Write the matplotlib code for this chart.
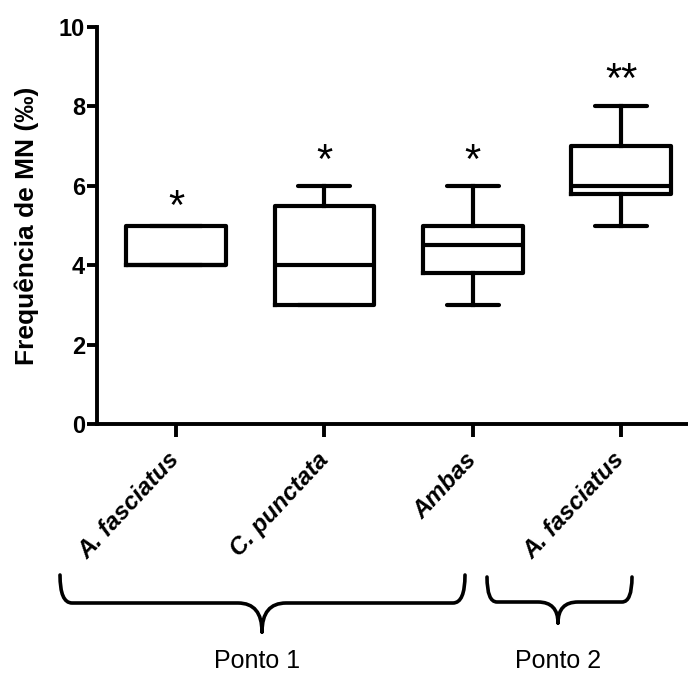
import matplotlib
matplotlib.use("Agg")
import matplotlib.pyplot as plt
from matplotlib.path import Path
from matplotlib.patches import PathPatch

plt.rcParams['font.family'] = ['Liberation Sans', 'DejaVu Sans']

# dados (frequencia de MN, por mil)
grupos = ['A. fasciatus', 'C. punctata', 'Ambas', 'A. fasciatus']
medianas = [4.0, 4.0, 4.5, 6.0]
q1 = [4.0, 3.0, 3.8, 5.8]
q3 = [5.0, 5.5, 5.0, 7.0]
minimos = [4.0, 3.0, 3.0, 5.0]
maximos = [5.0, 6.0, 6.0, 8.0]
signif = ['*', '*', '*', '**']
signif_y = [5.45, 6.6, 6.6, 8.65]
pontos = ['Ponto 1', 'Ponto 2']

W, H = 688, 676
fig = plt.figure(figsize=(W / 100, H / 100), dpi=100)
ax = fig.add_axes([97 / W, 1 - 424 / H, (W - 97) / W, (424 - 27) / H])

stats = []
for i in range(len(grupos)):
    stats.append(dict(med=medianas[i], q1=q1[i], q3=q3[i],
                      whislo=minimos[i], whishi=maximos[i], fliers=[]))

lw = 3.0
ax.bxp(stats, positions=range(1, 5), widths=0.67, capwidths=0.35,
       showfliers=False, patch_artist=False,
       boxprops=dict(color='black', linewidth=lw),
       medianprops=dict(color='black', linewidth=lw),
       whiskerprops=dict(color='black', linewidth=lw),
       capprops=dict(color='black', linewidth=lw, solid_capstyle='round'))

for i, s in enumerate(signif):
    ax.text(i + 1, signif_y[i], s, ha='center', va='center', fontsize=30)

ax.set_xlim(0.468, 4.45)
ax.set_ylim(0, 10)
ax.set_yticks([0, 2, 4, 6, 8, 10])
ax.set_xticks(range(1, 5))
ax.set_xticklabels(grupos, rotation=47, ha='right', va='center', rotation_mode='anchor',
                   fontsize=17.5, fontweight='bold', fontstyle='italic')
for lab in ax.get_yticklabels():
    lab.set_fontweight('bold')
    lab.set_fontsize(17)

for sp in ['top', 'right']:
    ax.spines[sp].set_visible(False)
for sp in ['left', 'bottom']:
    ax.spines[sp].set_linewidth(2.8)
ax.tick_params(axis='both', width=2.8, length=7.5, direction='out')
ax.tick_params(axis='y', pad=1)
ax.tick_params(axis='x', length=9, pad=14)

ax.set_ylabel('Frequência de MN (‰)', fontsize=19, fontweight='bold', labelpad=14)


def chave(x0, x1, xm, ytop, yh, ytip, r=12):
    # chave desenhada em pixels da figura (y para baixo)
    pts = [(x0, ytop), (x0, yh), (x0 + r, yh), (xm - 2 * r, yh), (xm, yh), (xm, ytip),
           (x1, ytop), (x1, yh), (x1 - r, yh), (xm + 2 * r, yh), (xm, yh), (xm, ytip)]
    codes = [Path.MOVETO, Path.CURVE3, Path.CURVE3, Path.LINETO, Path.CURVE3, Path.CURVE3] * 2
    pts = [(x / W, 1 - y / H) for x, y in pts]
    fig.patches.append(PathPatch(Path(pts, codes), transform=fig.transFigure,
                                 fill=False, lw=2.6, color='black', capstyle='round'))


chave(60, 465, 262, 575, 603, 632)
chave(487, 632, 558, 577, 602, 623, r=10)

fig.text(257 / W, 1 - 668 / H, pontos[0], ha='center', va='baseline', fontsize=18)
fig.text(558 / W, 1 - 668 / H, pontos[1], ha='center', va='baseline', fontsize=18)

fig.savefig('out.png', dpi=100)
